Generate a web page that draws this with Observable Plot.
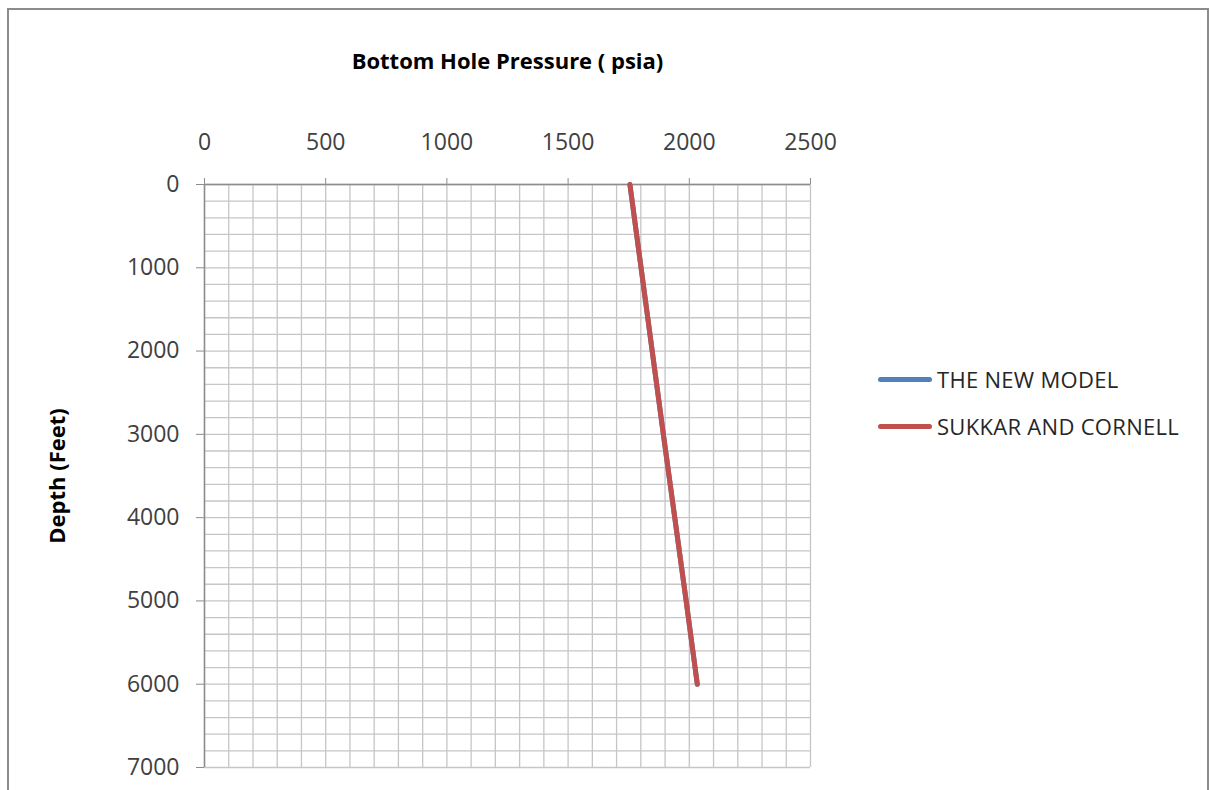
<!DOCTYPE html>
<html>
<head>
<meta charset="utf-8">
<script src="https://cdn.jsdelivr.net/npm/d3@7"></script>
<script src="https://cdn.jsdelivr.net/npm/@observablehq/plot@0.6"></script>
<style>
  html, body { margin: 0; padding: 0; background: #fff; overflow: hidden; }
  #wrap { position: relative; width: 1210px; height: 790px; }
  #frame { position: absolute; left: 7px; top: 8px; width: 1202px; height: 800px;
           border: 2px solid #8c8c8c; box-sizing: border-box; }
  #chart { position: absolute; left: 0; top: 0; }
  #chart svg { font-family: "Open Sans", sans-serif; }
  #chart svg [aria-label="x-axis label"] text,
  #chart svg [aria-label="y-axis label"] text { font-weight: bold; fill: #000; font-size: 22px; }
  .legend { position: absolute; left: 878px; font-family: "Open Sans", sans-serif;
            font-size: 22px; color: #262626; display: flex; align-items: center; letter-spacing: 0.3px; }
  .legend .sw { width: 54px; height: 5px; border-radius: 3px; margin-right: 5px; }
</style>
</head>
<body>
<div id="wrap">
  <div id="frame"></div>
  <div id="chart"></div>
  <div class="legend" id="leg0" style="top:364px"></div>
  <div class="legend" id="leg1" style="top:411px"></div>
</div>
<script>
// ---- data ----
const depths = [0, 1000, 2000, 3000, 4000, 5000, 6000];
const newModel = [1755, 1801, 1847, 1893, 1940, 1987, 2033];
const sukkarCornell = [1755, 1801, 1847, 1893, 1940, 1987, 2033];
const seriesNames = ["THE NEW MODEL", "SUKKAR AND CORNELL"];
const seriesColors = ["#4f81bd", "#c0504d"];
const xTicks = [0, 500, 1000, 1500, 2000, 2500];
const yTicks = [0, 1000, 2000, 3000, 4000, 5000, 6000, 7000];
const xMinorStep = 100;
const yMinorStep = 200;

const rows = [];
depths.forEach((d, i) => rows.push({series: seriesNames[0], depth: d, p: newModel[i]}));
depths.forEach((d, i) => rows.push({series: seriesNames[1], depth: d, p: sukkarCornell[i]}));

const gridX = d3.range(xTicks[0], xTicks[xTicks.length - 1] + 1, xMinorStep);
const gridY = d3.range(yTicks[0], yTicks[yTicks.length - 1] + 1, yMinorStep);

const plot = Plot.plot({
  width: 1210,
  height: 790,
  marginLeft: 204,
  marginTop: 184,
  marginRight: 400,
  marginBottom: 23,
  style: { fontSize: "23px", color: "#404040", background: "transparent" },
  x: {
    domain: [0, 2500],
    axis: "top",
    ticks: xTicks,
    tickSize: 7,
    tickPadding: 28,
    tickFormat: d => String(d),
    label: "Bottom Hole Pressure ( psia)",
    labelAnchor: "center",
    labelArrow: "none",
    labelOffset: 131
  },
  y: {
    domain: [0, 7000],
    reverse: true,
    ticks: yTicks,
    tickSize: 8,
    tickPadding: 17,
    tickFormat: d => String(d),
    label: "Depth (Feet)",
    labelAnchor: "center",
    labelArrow: "none",
    labelOffset: 155
  },
  color: { domain: seriesNames, range: seriesColors },
  marks: [
    Plot.ruleX(gridX, { stroke: "#c6c6c6", strokeWidth: 1.3, strokeOpacity: 1 }),
    Plot.ruleY(gridY, { stroke: "#c6c6c6", strokeWidth: 1.3, strokeOpacity: 1 }),
    Plot.ruleX([0], { stroke: "#8c8c8c", strokeWidth: 1.5 }),
    Plot.ruleY([0], { stroke: "#8c8c8c", strokeWidth: 1.5 }),
    Plot.line(rows, { x: "p", y: "depth", z: "series", stroke: "series", strokeWidth: 5,
                      strokeLinecap: "round", strokeLinejoin: "round" })
  ]
});
plot.querySelectorAll('[aria-label="x-axis tick"] path, [aria-label="y-axis tick"] path')
  .forEach(p => p.setAttribute("stroke", "#8c8c8c"));
document.getElementById("chart").appendChild(plot);

seriesNames.forEach((name, i) => {
  const el = document.getElementById("leg" + i);
  el.innerHTML = `<span class="sw" style="background:${seriesColors[i]}"></span><span>${name}</span>`;
});
</script>
</body>
</html>
